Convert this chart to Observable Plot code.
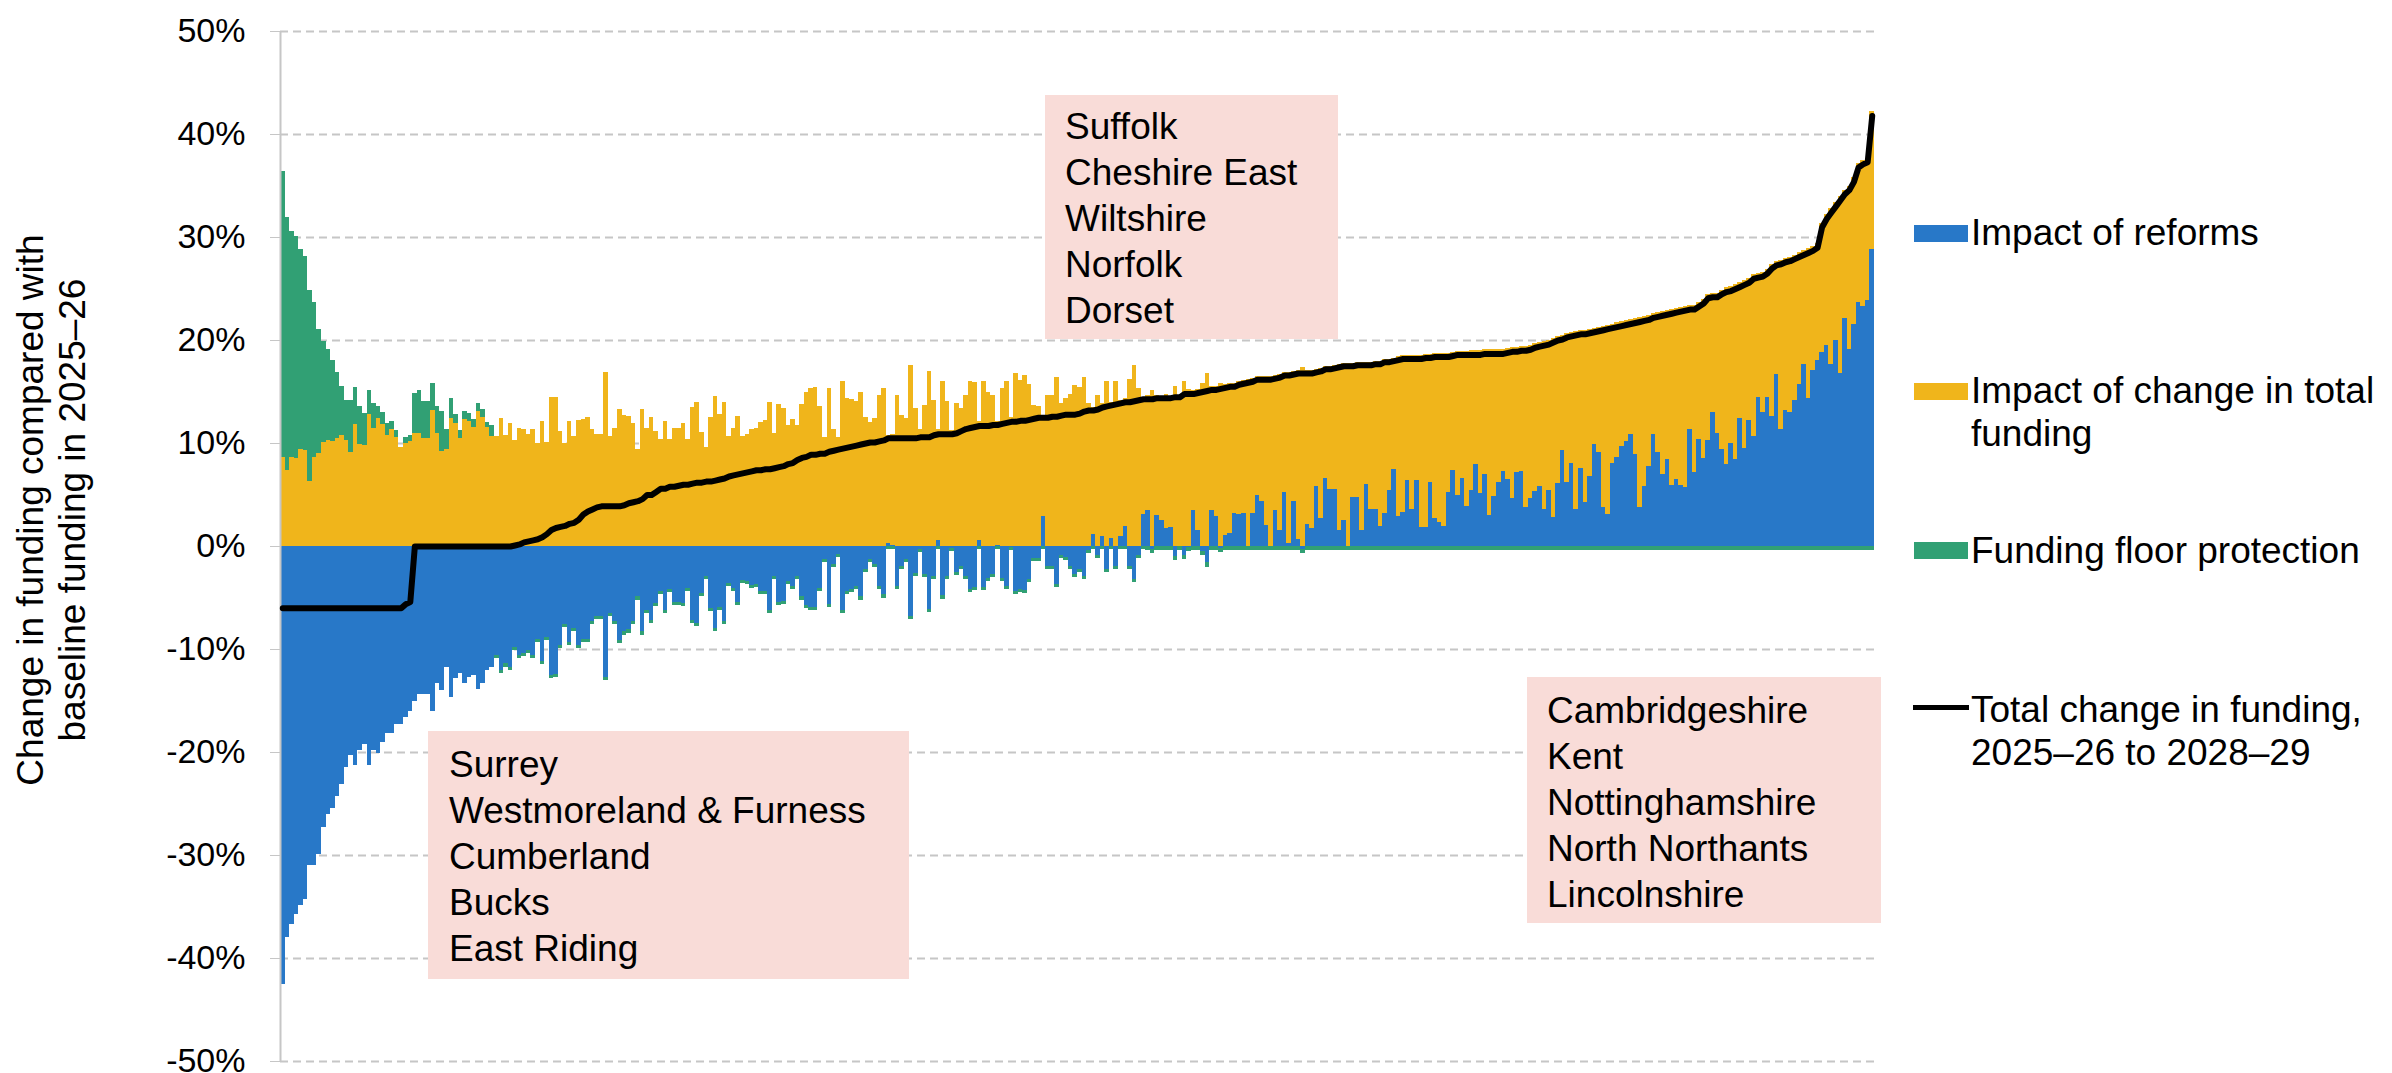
<!DOCTYPE html>
<html><head><meta charset="utf-8">
<script src="https://cdn.jsdelivr.net/npm/d3@7"></script>
<script src="https://cdn.jsdelivr.net/npm/@observablehq/plot@0.6"></script>
<style>
html,body{margin:0;padding:0;background:#fff;}
#wrap{position:relative;width:2392px;height:1073px;overflow:hidden;font-family:"Liberation Sans",Arial,sans-serif;color:#000;}
#wrap svg{position:absolute;left:0;top:0;}
.box{position:absolute;background:#f9dcd8;box-sizing:border-box;font-size:37px;line-height:46px;white-space:nowrap;}
.lg{position:absolute;font-size:37px;line-height:43px;white-space:nowrap;}
.sw{position:absolute;}
#ytitle{position:absolute;font-size:37px;line-height:42px;text-align:center;white-space:nowrap;transform:rotate(-90deg);}
</style></head><body><div id="wrap"></div>
<script>
// Series names and colours
const seriesNames = ["Impact of reforms", "Impact of change in total funding", "Funding floor protection"];
const seriesColors = ["#2878c8", "#f0b51b", "#31a074"];
const lineName = "Total change in funding, 2025–26 to 2028–29";
const yTicks = [-50, -40, -30, -20, -10, 0, 10, 20, 30, 40, 50];

// Impact of reforms (% of baseline), one value per authority, sorted by total change
const reforms = [
-42.5,-38.0,-36.7,-35.7,-34.9,-34.3,-31.0,-31.0,-29.9,-27.3,
-26.0,-25.4,-24.3,-23.1,-21.5,-20.3,-21.3,-19.8,-19.2,-21.3,
-19.8,-20.1,-19.0,-18.2,-18.2,-17.3,-17.3,-16.6,-16.0,-15.0,
-14.4,-14.4,-14.4,-16.0,-13.3,-14.0,-11.7,-14.7,-12.8,-12.3,
-13.3,-12.7,-12.5,-13.9,-13.3,-12.0,-11.7,-10.6,-12.0,-11.4,
-11.7,-9.8,-10.6,-10.4,-10.1,-10.6,-9.0,-11.2,-8.8,-12.5,
-12.4,-9.6,-7.6,-9.3,-8.0,-9.6,-9.0,-9.0,-7.3,-6.8,
-6.8,-12.7,-6.5,-7.3,-9.1,-8.3,-8.1,-7.3,-4.9,-8.3,
-6.2,-7.2,-5.5,-4.4,-6.2,-4.2,-5.4,-5.4,-5.5,-4.1,
-7.2,-7.5,-4.6,-2.9,-6.0,-8.0,-5.9,-7.3,-3.6,-4.1,
-5.4,-3.3,-3.4,-3.8,-3.7,-4.4,-4.4,-6.2,-2.9,-5.4,
-5.3,-3.4,-3.9,-2.9,-4.9,-5.7,-5.9,-5.9,-4.1,-1.3,
-5.6,-1.7,-0.8,-6.2,-4.4,-4.2,-3.9,-4.9,-2.2,-1.3,
-1.7,-3.9,-4.7,0.3,0.1,-3.9,-1.9,-1.3,-6.8,-2.6,
-0.3,-2.7,-6.1,-2.9,0.6,-4.8,-2.9,-0.2,-2.5,-1.9,
-2.9,-4.2,-4.0,0.6,-4.0,-3.1,-2.7,0.1,-3.1,-3.9,
-0.1,-4.4,-4.2,-4.3,-3.2,-1.2,-1.2,2.9,-1.9,-1.9,
-3.7,-0.9,-1.1,-1.9,-2.7,-2.2,-2.9,-0.4,1.2,-0.9,
1.0,-2.2,0.8,-1.9,1.0,1.9,-1.9,-3.2,-0.9,3.1,
3.5,-0.3,3.0,2.5,1.7,1.8,-1.0,0.0,-0.9,-0.1,
3.5,1.6,-0.5,-1.6,3.5,2.9,-0.2,1.1,1.3,3.2,
3.1,3.2,0.0,3.2,5.0,4.4,2.0,0.0,3.5,1.6,
5.2,0.3,4.4,0.7,-0.3,2.1,1.7,5.8,2.7,6.6,
5.5,5.5,1.6,2.5,0.0,4.8,4.8,1.6,6.0,3.6,
3.6,1.9,3.2,5.4,7.5,2.9,3.3,6.4,3.6,6.4,
1.8,1.8,6.2,2.7,2.3,1.9,5.2,7.4,5.0,6.6,
3.9,5.4,8.0,5.1,7.0,3.0,4.9,6.2,7.3,6.5,
4.7,7.2,7.3,3.8,4.7,5.3,5.8,3.6,5.4,2.8,
6.1,9.3,6.2,8.1,3.6,7.6,4.3,6.8,9.9,9.1,
3.8,3.1,8.1,8.6,9.7,10.2,10.9,8.9,3.8,5.8,
7.8,10.9,9.1,7.0,8.4,5.9,6.5,5.9,5.7,11.4,
7.2,10.4,8.5,10.3,13.0,11.0,9.4,8.0,10.0,8.4,
12.4,9.5,12.2,10.7,14.5,13.0,14.5,12.6,16.7,11.4,
13.2,13.0,14.2,15.7,17.7,14.4,17.1,18.1,18.8,19.5,
17.7,20.0,16.8,22.1,19.1,21.6,23.7,23.3,23.9,28.8];

// Impact of change in total funding
const changeTotal = [
8.6,7.4,8.6,8.5,9.4,9.3,6.3,8.6,9.0,10.1,
10.3,10.2,10.5,10.8,10.3,9.1,11.8,9.9,9.8,12.8,
11.5,12.4,11.8,10.8,11.4,10.6,9.6,10.0,10.2,11.0,
11.0,10.5,10.5,13.2,11.0,9.2,9.4,12.4,11.9,10.5,
12.3,12.1,11.6,13.1,12.5,11.6,10.7,10.7,12.4,10.8,
11.9,10.3,11.5,11.4,10.9,11.4,10.0,12.1,10.1,14.5,
14.5,11.2,10.0,12.1,10.7,12.2,12.3,12.5,11.4,10.9,
10.9,16.9,10.7,11.5,13.3,12.7,12.6,11.9,9.4,13.3,
11.5,12.5,11.2,10.4,12.1,10.4,11.5,11.5,11.9,10.4,
13.5,14.0,11.1,9.6,12.5,14.6,12.8,14.0,10.7,11.5,
12.6,10.7,10.9,11.4,11.5,12.0,12.2,14.0,11.0,13.8,
13.4,11.7,12.3,11.7,13.8,15.0,15.3,15.4,13.6,10.6,
15.3,11.4,10.6,16.0,14.4,14.3,14.1,15.0,12.5,12.0,
12.4,14.7,15.3,10.5,10.8,14.7,12.7,12.4,17.6,13.4,
11.4,13.7,17.0,14.2,10.8,16.0,14.1,11.3,13.9,13.4,
14.7,16.0,15.9,11.5,16.0,15.0,14.7,12.0,15.3,16.0,
12.5,16.8,16.1,16.6,15.7,13.7,13.6,9.8,14.7,14.7,
16.4,13.9,14.4,14.8,15.6,15.4,16.4,13.9,12.3,14.7,
12.9,16.0,13.2,16.0,13.2,12.5,16.2,17.6,15.3,11.4,
11.2,15.1,11.7,12.0,13.1,12.7,15.5,14.7,16.0,15.2,
11.6,13.6,15.8,16.8,12.0,12.6,15.8,14.6,14.5,12.6,
12.9,12.9,16.2,13.1,11.5,12.1,14.5,16.5,13.1,15.1,
11.7,16.6,12.6,16.4,17.4,15.0,15.4,11.4,14.6,10.9,
12.0,12.1,16.1,15.3,17.8,13.0,13.1,16.3,11.9,14.3,
14.4,16.1,15.0,12.8,10.8,15.5,15.2,12.1,14.9,12.1,
16.7,16.8,12.4,16.0,16.4,16.8,13.5,11.4,13.9,12.3,
15.0,13.6,11.0,13.9,12.1,16.1,14.2,12.9,11.8,12.7,
14.6,12.1,12.1,15.6,14.8,14.4,14.0,16.3,14.6,17.4,
14.3,11.2,14.5,12.7,17.3,13.4,16.7,14.3,11.3,12.2,
17.6,18.4,13.5,13.1,12.1,11.7,11.1,13.2,18.4,16.5,
14.6,11.7,13.6,15.8,14.5,17.1,16.6,17.3,17.6,12.0,
16.2,13.3,15.5,14.2,11.6,13.6,15.5,17.1,15.2,17.0,
13.2,16.3,13.8,15.7,12.0,13.6,12.4,14.8,11.0,16.4,
14.8,15.1,14.1,12.8,11.0,14.5,12.0,11.3,12.6,12.7,
15.1,13.4,17.2,12.5,15.9,14.2,13.5,14.2,13.8,13.4];

// Funding floor protection
const floorProt = [
27.8,24.5,22.0,21.6,19.4,18.9,18.6,15.1,12.1,9.8,
8.8,7.9,6.4,4.7,3.9,5.1,3.6,3.7,3.1,2.3,
2.4,1.2,1.2,1.1,0.7,0.7,0.0,0.6,0.6,3.9,
4.1,3.6,3.6,2.6,2.6,3.9,2.0,2.0,0.9,0.8,
0.8,0.8,0.7,0.8,0.8,0.4,1.0,-0.3,-0.3,-0.3,
-0.3,-0.3,-0.3,-0.3,-0.3,-0.3,-0.3,-0.3,-0.3,-0.3,
-0.3,-0.3,-0.3,-0.3,-0.3,-0.3,-0.3,-0.3,-0.3,-0.3,
-0.3,-0.3,-0.3,-0.3,-0.3,-0.3,-0.3,-0.3,-0.3,-0.3,
-0.3,-0.3,-0.3,-0.3,-0.3,-0.3,-0.3,-0.3,-0.3,-0.3,
-0.3,-0.3,-0.3,-0.3,-0.3,-0.3,-0.3,-0.3,-0.3,-0.3,
-0.3,-0.3,-0.3,-0.3,-0.3,-0.3,-0.3,-0.3,-0.3,-0.3,
-0.3,-0.3,-0.3,-0.3,-0.3,-0.3,-0.3,-0.3,-0.3,-0.3,
-0.3,-0.3,-0.3,-0.3,-0.3,-0.3,-0.3,-0.3,-0.3,-0.3,
-0.3,-0.3,-0.3,-0.3,-0.3,-0.3,-0.3,-0.3,-0.3,-0.3,
-0.3,-0.3,-0.3,-0.3,-0.3,-0.3,-0.3,-0.3,-0.3,-0.3,
-0.3,-0.3,-0.3,-0.3,-0.3,-0.3,-0.3,-0.3,-0.3,-0.3,
-0.3,-0.3,-0.3,-0.3,-0.3,-0.3,-0.3,-0.3,-0.3,-0.3,
-0.3,-0.3,-0.3,-0.3,-0.3,-0.3,-0.3,-0.3,-0.3,-0.3,
-0.3,-0.3,-0.3,-0.3,-0.3,-0.3,-0.3,-0.3,-0.3,-0.3,
-0.4,-0.4,-0.4,-0.4,-0.4,-0.4,-0.4,-0.4,-0.4,-0.4,
-0.4,-0.4,-0.4,-0.4,-0.4,-0.4,-0.4,-0.4,-0.4,-0.4,
-0.4,-0.4,-0.4,-0.4,-0.4,-0.4,-0.4,-0.4,-0.4,-0.4,
-0.4,-0.4,-0.4,-0.4,-0.4,-0.4,-0.4,-0.4,-0.4,-0.4,
-0.4,-0.4,-0.4,-0.4,-0.4,-0.4,-0.4,-0.4,-0.4,-0.4,
-0.4,-0.4,-0.4,-0.4,-0.4,-0.4,-0.4,-0.4,-0.4,-0.4,
-0.4,-0.4,-0.4,-0.4,-0.4,-0.4,-0.4,-0.4,-0.4,-0.4,
-0.4,-0.4,-0.4,-0.4,-0.4,-0.4,-0.4,-0.4,-0.4,-0.4,
-0.4,-0.4,-0.4,-0.4,-0.4,-0.4,-0.4,-0.4,-0.4,-0.4,
-0.4,-0.4,-0.4,-0.4,-0.4,-0.4,-0.4,-0.4,-0.4,-0.4,
-0.4,-0.4,-0.4,-0.4,-0.4,-0.4,-0.4,-0.4,-0.4,-0.4,
-0.4,-0.4,-0.4,-0.4,-0.4,-0.4,-0.4,-0.4,-0.4,-0.4,
-0.4,-0.4,-0.4,-0.4,-0.4,-0.4,-0.4,-0.4,-0.4,-0.4,
-0.4,-0.4,-0.4,-0.4,-0.4,-0.4,-0.4,-0.4,-0.4,-0.4,
-0.4,-0.4,-0.4,-0.4,-0.4,-0.4,-0.4,-0.4,-0.4,-0.4,
-0.4,-0.4,-0.4,-0.4,-0.4,-0.4,-0.4,-0.4,-0.4,-0.4];

// Total change in funding, 2025–26 to 2028–29 (black line)
const totalChange = [
-6,-6,-6,-6,-6,-6,-6,-6,-6,-6,
-6,-6,-6,-6,-6,-6,-6,-6,-6,-6,
-6,-6,-6,-6,-6,-6,-6,-5.6,-5.4,0,
0,0,0,0,0,0,0,0,0,0,
0,0,0,0,0,0,0,0,0,0,
0,0.1,0.2,0.4,0.5,0.6,0.7,0.9,1.2,1.6,
1.8,1.9,2.0,2.2,2.3,2.6,3.1,3.4,3.6,3.8,
3.9,3.9,3.9,3.9,3.9,4.0,4.2,4.3,4.4,4.6,
5.0,5.0,5.3,5.6,5.6,5.8,5.8,5.9,6.0,6.0,
6.1,6.2,6.2,6.3,6.3,6.4,6.5,6.6,6.8,6.9,
7.0,7.1,7.2,7.3,7.4,7.4,7.5,7.5,7.6,7.7,
7.8,8.0,8.1,8.4,8.6,8.7,8.9,8.9,9.0,9.0,
9.2,9.3,9.4,9.5,9.6,9.7,9.8,9.9,10.0,10.1,
10.1,10.2,10.3,10.5,10.5,10.5,10.5,10.5,10.5,10.5,
10.6,10.6,10.6,10.8,10.9,10.9,10.9,10.9,11.0,11.2,
11.4,11.5,11.6,11.7,11.7,11.7,11.8,11.8,11.9,12.0,
12.1,12.1,12.2,12.2,12.3,12.4,12.5,12.5,12.5,12.6,
12.6,12.7,12.8,12.8,12.8,12.9,13.1,13.2,13.2,13.3,
13.5,13.6,13.7,13.8,13.9,14.0,14.0,14.1,14.2,14.3,
14.3,14.3,14.4,14.4,14.4,14.4,14.5,14.5,14.8,14.8,
14.8,14.9,15.0,15.1,15.2,15.2,15.3,15.4,15.5,15.5,
15.7,15.8,15.9,16.0,16.2,16.2,16.2,16.2,16.3,16.4,
16.6,16.6,16.7,16.8,16.8,16.8,16.8,16.9,17.0,17.2,
17.2,17.3,17.4,17.5,17.5,17.5,17.6,17.6,17.6,17.6,
17.7,17.7,17.9,17.9,18.0,18.1,18.2,18.2,18.2,18.2,
18.2,18.3,18.3,18.4,18.4,18.4,18.4,18.5,18.6,18.6,
18.6,18.6,18.6,18.6,18.7,18.7,18.7,18.7,18.7,18.8,
18.9,18.9,19.0,19.0,19.1,19.3,19.4,19.5,19.6,19.8,
20.0,20.1,20.3,20.4,20.5,20.6,20.6,20.7,20.8,20.9,
21.0,21.1,21.2,21.3,21.4,21.5,21.6,21.7,21.8,21.9,
22.0,22.2,22.3,22.4,22.5,22.6,22.7,22.8,22.9,23.0,
23.0,23.3,23.6,24.1,24.2,24.2,24.5,24.7,24.8,25.0,
25.2,25.4,25.6,26.0,26.1,26.2,26.5,27.0,27.3,27.4,
27.6,27.7,27.9,28.1,28.3,28.5,28.7,29.0,31.0,31.8,
32.4,33.0,33.6,34.2,34.6,35.4,36.8,37.1,37.3,41.8];

// Authorities (rank order, 1 = largest loss)
const ranks = d3.range(1, reforms.length + 1);

// Long table for the stacked bars (series order = stacking order)
const seriesValues = [reforms, changeTotal, floorProt];
const barRows = [];
ranks.forEach((r, i) => {
  seriesValues.forEach((vals, s) => barRows.push({rank: r, series: seriesNames[s], value: vals[i]}));
});
const lineRows = ranks.map((r, i) => ({rank: r, total: totalChange[i]}));

const W = 1890, H = 1073, ML = 280, MR = 16;
const step = (W - ML - MR) / ranks.length;

const chart = Plot.plot({
  width: W, height: H,
  marginLeft: ML, marginRight: MR, marginTop: 31, marginBottom: 12,
  style: {fontFamily: "'Liberation Sans', Arial, sans-serif", fontSize: "34px", background: "transparent", color: "#000"},
  x: {type: "band", domain: ranks, padding: 0, axis: null},
  y: {domain: [-50, 50]},
  color: {domain: seriesNames, range: seriesColors},
  marks: [
    Plot.ruleY(yTicks, {stroke: "#c6c6c6", strokeWidth: 2, strokeDasharray: "8,5"}),
    Plot.axisY(yTicks, {tickSize: 10, tickPadding: 25, fontSize: 34, tickFormat: d => `${d}%`}),
    Plot.barY(barRows, {x: "rank", y: "value", fill: "series", shapeRendering: "crispEdges"}),
    Plot.ruleX([ranks[0]], {stroke: "#c6c6c6", strokeWidth: 2, dx: -step / 2, y1: -50, y2: 50}),
    Plot.line(lineRows, {x: "rank", y: "total", stroke: "#000", strokeWidth: 6, strokeLinejoin: "round"})
  ]
});
chart.querySelectorAll('g[aria-label="y-axis tick"]').forEach(g => g.setAttribute("stroke", "#c6c6c6"));

const wrap = document.getElementById("wrap");
wrap.appendChild(chart);

function el(cls, css, html) {
  const d = document.createElement("div");
  if (cls) d.className = cls;
  Object.assign(d.style, css);
  if (html != null) d.innerHTML = html;
  wrap.appendChild(d);
  return d;
}

// y-axis title
el(null, {left: "-298px", top: "468px", width: "700px", height: "84px"}, "Change in funding compared with<br>baseline funding in 2025–26").id = "ytitle";

// annotation boxes
const boxes = [
  {names: ["Suffolk", "Cheshire East", "Wiltshire", "Norfolk", "Dorset"], css: {left: "1045px", top: "95px", width: "293px", height: "244px", padding: "9px 0 0 20px"}},
  {names: ["Surrey", "Westmoreland &amp; Furness", "Cumberland", "Bucks", "East Riding"], css: {left: "428px", top: "731px", width: "481px", height: "248px", padding: "11px 0 0 21px"}},
  {names: ["Cambridgeshire", "Kent", "Nottinghamshire", "North Northants", "Lincolnshire"], css: {left: "1527px", top: "677px", width: "354px", height: "246px", padding: "11px 0 0 20px"}}
];
boxes.forEach(b => el("box", b.css, b.names.join("<br>")));

// legend
const legendItems = [
  {color: seriesColors[0], html: "Impact of reforms", sw: 225, txt: 210.5},
  {color: seriesColors[1], html: "Impact of change in total<br>funding", sw: 383, txt: 368.5},
  {color: seriesColors[2], html: "Funding floor protection", sw: 542, txt: 528.5}
];
legendItems.forEach(it => {
  el("sw", {left: "1914px", top: it.sw + "px", width: "54px", height: "17px", background: it.color});
  el("lg", {left: "1971px", top: it.txt + "px"}, it.html);
});
el("sw", {left: "1913px", top: "704.5px", width: "56px", height: "5px", background: "#000"});
el("lg", {left: "1971px", top: "687.5px"}, "Total change in funding,<br>2025–26 to 2028–29");
</script></body></html>
